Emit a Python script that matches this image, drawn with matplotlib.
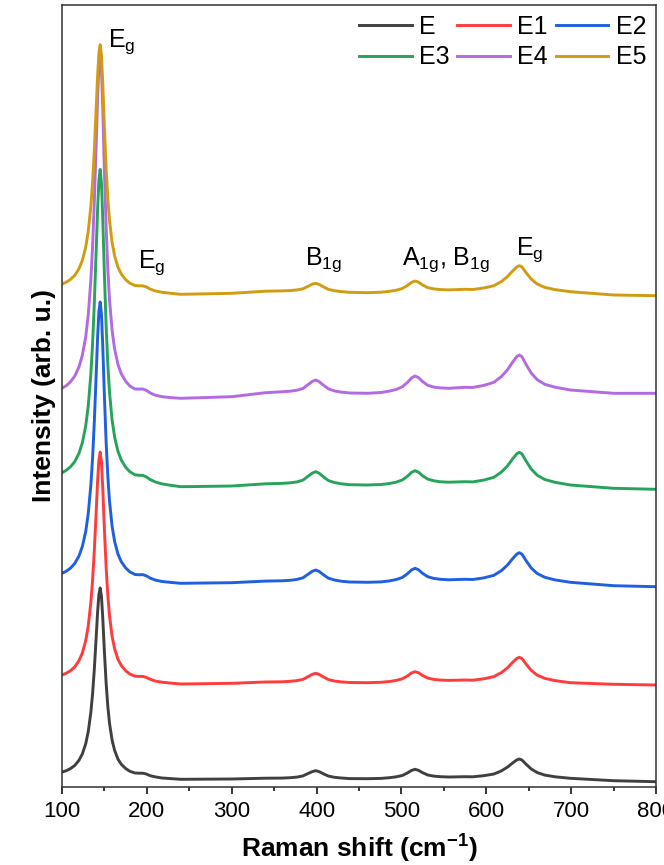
import numpy as np
import matplotlib
matplotlib.use('Agg')
import matplotlib.pyplot as plt
from matplotlib.ticker import MultipleLocator

plt.rcParams['font.family'] = ['Liberation Sans', 'DejaVu Sans']
plt.rcParams['mathtext.fontset'] = 'custom'
plt.rcParams['mathtext.rm'] = 'Liberation Sans'
plt.rcParams['mathtext.it'] = 'Liberation Sans:italic'
plt.rcParams['mathtext.bf'] = 'Liberation Sans:bold'

# Raman shift (cm-1)
shift = [100, 105, 110, 115, 120, 124, 128, 131, 134, 136, 138, 140, 142, 143.5, 145, 146.5, 148, 150,
         152, 154, 156, 159, 162, 166, 170, 175, 180, 186, 191, 195, 199, 204, 210, 218, 228, 240,
         260, 300, 340, 359, 369, 377, 384, 390, 395, 399, 403, 408, 414, 421, 429, 439, 460,
         476, 486, 494, 501, 507, 512, 516, 520, 525, 531, 538, 546, 556, 575,
         584, 597, 609, 618, 625, 631, 636, 639, 642, 647, 653, 660, 669, 681, 699, 750, 800]

# stacked intensities (arb. u.), offsets included
E = [14.9, 16.3, 18.4, 21.5, 26.7, 33.1, 43.4, 55.7, 74.7, 92.8, 116.5, 145.6, 175.6, 192.5, 199, 190.6, 169.6, 134.8,
     104, 80.6, 63.7, 47, 36.6, 27.8, 22.6, 18.5, 15.7, 14.0, 13.8, 13.8, 13.1, 11.3, 10.1, 9.0, 8.4, 7.7,
     7.8, 8.0, 8.8, 8.9, 9.3, 9.9, 11.1, 13.5, 15.4, 16.3, 15.4, 13.2, 10.9, 9.7, 9.0, 8.4, 8.3,
     8.6, 9.3, 10.2, 11.5, 14.0, 16.6, 17.7, 16.7, 14.3, 12.0, 10.9, 10.3, 10.0, 10.3,
     10.2, 11.3, 13.0, 16.2, 19.9, 24.0, 27.1, 28.0, 27.0, 22.7, 18.0, 14.4, 11.9, 10.2, 8.7, 6.3, 5.3]
E1 = [112.0, 113.8, 116.3, 120.1, 126.3, 134.1, 146.5, 161.5, 184.5, 206.3, 235.1, 270.3, 306.6, 327.1, 334.9, 324.8, 299.3, 257.2,
      219.9, 191.6, 171.1, 150.9, 138.3, 127.7, 121.3, 116.3, 113.0, 110.8, 110.6, 110.6, 109.7, 107.7, 105.9, 104.8, 103.9, 103.0,
      103.2, 103.7, 105.0, 105.2, 105.7, 106.4, 107.6, 110.4, 112.6, 113.7, 112.6, 110.1, 107.4, 106.0, 105.1, 104.5, 104.3,
      104.7, 105.5, 106.6, 108.2, 111.0, 114.1, 115.3, 114.3, 111.5, 108.9, 107.6, 106.9, 106.6, 107.0,
      106.8, 108.2, 110.4, 114.5, 119.2, 124.6, 128.6, 129.7, 128.5, 122.8, 116.6, 111.9, 108.6, 106.4, 104.3, 102.7, 102.0]
E2 = [213.7, 215.8, 218.9, 223.5, 231.0, 240.6, 255.7, 273.9, 301.9, 328.5, 363.5, 406.3, 450.6, 475.5, 485.0, 472.7, 441.6, 390.4,
      345.0, 310.6, 285.6, 261.0, 245.6, 232.8, 225.1, 219.1, 215.1, 212.5, 212.2, 212.4, 211.3, 208.9, 206.9, 205.5, 204.6, 203.7,
      203.9, 204.3, 205.9, 206.2, 206.7, 207.6, 209.2, 212.8, 215.7, 217.0, 215.6, 212.3, 208.8, 207.0, 205.8, 205.0, 204.7,
      205.1, 206.1, 207.5, 209.5, 213.2, 217.1, 218.7, 217.3, 213.6, 210.3, 208.6, 207.7, 207.2, 207.7,
      207.5, 209.1, 211.7, 216.5, 222.0, 228.3, 232.9, 234.3, 232.8, 226.2, 219.0, 213.5, 209.7, 207.1, 204.7, 201.3, 200.3]
E3 = [314.3, 316.7, 320.2, 325.3, 333.7, 344.4, 361.3, 381.6, 412.9, 442.6, 481.8, 529.6, 579.1, 607.0, 617.6, 603.8, 569.1, 511.8,
      461.1, 422.6, 394.7, 367.2, 350.0, 335.5, 326.7, 319.8, 315.2, 312.2, 311.7, 311.6, 310.3, 307.4, 305.0, 303.1, 301.7, 300.3,
      300.5, 301.0, 303.2, 303.6, 304.2, 305.1, 306.9, 310.8, 313.9, 315.3, 313.8, 310.2, 306.4, 304.5, 303.2, 302.3, 302.0,
      302.5, 303.5, 304.9, 307.0, 310.7, 314.7, 316.3, 314.9, 311.2, 307.9, 306.2, 305.2, 304.8, 305.3,
      305.1, 306.9, 309.7, 315.1, 321.1, 328.1, 333.2, 334.7, 333.1, 325.8, 317.9, 311.8, 307.5, 304.7, 302.0, 298.7, 297.7]
E4 = [398.8, 401.3, 405.2, 410.8, 420.1, 431.8, 450.4, 472.7, 507.1, 539.8, 582.8, 635.4, 689.8, 720.4, 732.1, 717.0, 678.8, 615.8,
      560.1, 517.8, 487.2, 456.9, 438.0, 422.4, 413.0, 405.8, 401.0, 398.0, 397.9, 398.0, 396.9, 394.0, 391.8, 390.3, 389.4, 388.7,
      389.2, 390.3, 394.3, 395.2, 395.8, 396.8, 398.5, 402.4, 405.6, 407.0, 405.4, 401.9, 398.1, 396.1, 394.9, 394.0, 393.7,
      394.5, 395.9, 397.6, 400.2, 404.5, 409.1, 411.0, 409.5, 405.4, 401.7, 399.9, 399.1, 398.7, 399.7,
      399.5, 401.6, 404.7, 410.6, 417.2, 424.8, 430.4, 432.0, 430.3, 422.4, 413.9, 407.3, 402.7, 399.8, 397.0, 393.7, 393.7]
E5 = [503.0, 504.8, 507.6, 511.6, 518.3, 526.7, 540.0, 556.1, 580.8, 604.2, 635.1, 672.9, 711.9, 733.9, 742.3, 731.4, 704.0, 658.8,
      618.8, 588.4, 566.4, 544.7, 531.1, 519.7, 512.8, 507.4, 503.8, 501.5, 501.2, 501.2, 500.2, 497.9, 496.0, 494.7, 493.7, 492.7,
      493.0, 493.7, 495.8, 496.1, 496.4, 497.1, 498.2, 500.7, 502.8, 503.7, 502.6, 500.2, 497.6, 496.3, 495.4, 494.7, 494.3,
      494.8, 495.7, 496.8, 498.5, 501.5, 504.6, 506.0, 504.9, 502.0, 499.4, 498.1, 497.4, 497.1, 497.7,
      497.5, 499.0, 501.3, 505.6, 510.4, 516.0, 520.1, 521.3, 520.0, 514.2, 507.9, 503.0, 499.6, 497.4, 495.3, 492.0, 491.3]

names = ['E', 'E1', 'E2', 'E3', 'E4', 'E5']
colors = ['#404040', '#ff3b3b', '#1f5fe0', '#27a35a', '#b36ae2', '#d29c12']

fig = plt.figure(figsize=(6.64, 8.65), dpi=100)
ax = fig.add_axes([62/664, 78/865, 594/664, 782/865])

lines = []
for y, n, c in zip([E, E1, E2, E3, E4, E5], names, colors):
    l, = ax.plot(shift, y, color=c, lw=2.1, label=n, solid_joinstyle='round')
    lines.append(l)

# peak labels
fs = 18
ax.text(154, 740, r'E$_{\rm g}$', fontsize=fs)
ax.text(189.4, 519, r'E$_{\rm g}$', fontsize=fs)
ax.text(386, 522, r'B$_{\rm 1g}$', fontsize=fs)
ax.text(501, 522, r'A$_{\rm 1g}$, B$_{\rm 1g}$', fontsize=fs)
ax.text(635, 532, r'E$_{\rm g}$', fontsize=fs)

ax.set_xlim(100, 800)
ax.set_ylim(0, 782)
ax.xaxis.set_major_locator(MultipleLocator(100))
ax.xaxis.set_minor_locator(MultipleLocator(50))
ax.set_yticks([])
ax.tick_params(axis='x', which='major', direction='out', length=5, width=1.1, labelsize=16, pad=5)
ax.tick_params(axis='x', which='minor', direction='out', length=3, width=1.1)
for s in ax.spines.values():
    s.set_linewidth(1.1)
    s.set_color('#333333')

ax.set_xlabel(r'Raman shift (cm$^{\mathbf{-1}}$)', fontsize=19, fontweight='bold', labelpad=8)
ax.set_ylabel('Intensity (arb. u.)', fontsize=19, fontweight='bold', labelpad=4)

# row-major order for the 3-column legend
order = [0, 3, 1, 4, 2, 5]
ax.legend([lines[i] for i in order], [names[i] for i in order], ncol=3, loc='upper right',
          frameon=False, fontsize=18, handlelength=2.1, handletextpad=0.3,
          columnspacing=0.3, labelspacing=0.25, borderpad=0.2, borderaxespad=0.2)

plt.savefig('out.png', dpi=100)
